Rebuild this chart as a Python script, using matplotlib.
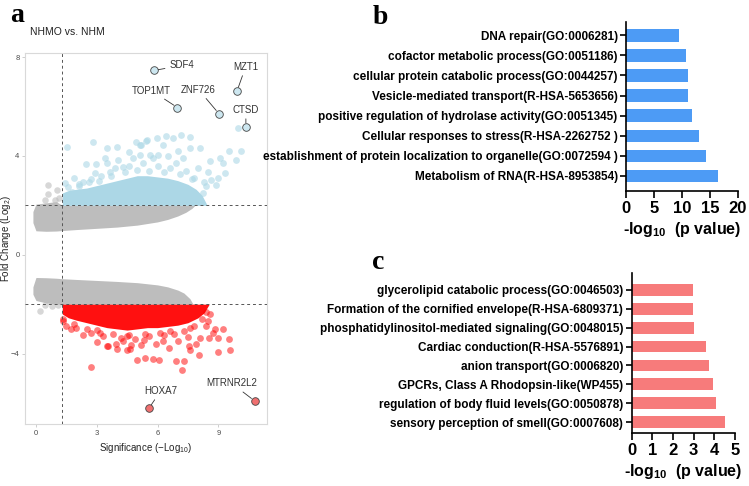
import matplotlib
matplotlib.use("Agg")
import matplotlib.pyplot as plt

plt.rcParams['font.family'] = ['Liberation Sans', 'DejaVu Sans']
plt.rcParams['mathtext.default'] = 'regular'

# Panel a: volcano plot (NHMO vs. NHM)
P_CUT = 1.3
FC_CUT = 2.0

# dense grey cloud, upper arm (x, lower edge, upper edge)
gray_up_x = [-0.15, 0.0, 0.5, 1.0, 1.3, 2.0, 3.0, 4.0, 5.0, 6.0, 6.5, 7.0, 7.4, 7.7, 7.85]
gray_up_lo = [1.3, 0.97, 0.95, 0.96, 0.98, 1.02, 1.07, 1.12, 1.2, 1.33, 1.43, 1.57, 1.72, 1.88, 2.0]
gray_up_hi = [1.75, 2.05, 2.1, 2.15, 2.0, 2.0, 2.0, 2.0, 2.0, 2.0, 2.0, 2.0, 2.0, 2.0, 2.0]
# dense grey cloud, lower arm
gray_dn_x = [-0.15, 0.0, 0.5, 1.0, 1.3, 2.0, 3.0, 4.0, 5.0, 6.0, 6.5, 7.0, 7.3, 7.6, 7.75]
gray_dn_hi = [-1.3, -0.92, -0.93, -0.95, -0.97, -1.0, -1.04, -1.08, -1.13, -1.22, -1.3, -1.43, -1.55, -1.78, -2.0]
gray_dn_lo = [-1.6, -1.85, -1.95, -2.0, -2.0, -2.0, -2.0, -2.0, -2.0, -2.0, -2.0, -2.0, -2.0, -2.0, -2.0]
gray_pts_x = [0.61, 1.02, 0.61, 0.44, 0.94, 1.15, 0.2, 0.8, 0.45, 1.1]
gray_pts_y = [2.83, 2.63, 2.47, 2.23, 2.23, 2.3, -2.27, -2.06, -2.05, -2.05]

# dense up-regulated core (upper edge)
blue_core_x = [1.3, 1.6, 2.0, 2.5, 3.0, 3.5, 4.0, 4.5, 5.0, 5.5, 6.0, 6.5, 7.0, 7.5, 7.9, 8.2, 8.45]
blue_core_hi = [2.5, 2.6, 2.65, 2.7, 2.8, 2.9, 3.0, 3.1, 3.2, 3.2, 3.15, 3.1, 3.0, 2.85, 2.65, 2.4, 2.0]
blue_x = [1.54, 2.82, 3.53, 4.0, 4.93, 5.12, 5.48, 4.57, 2.46, 2.96, 3.53, 4.05, 2.9, 2.74, 2.13,
          1.43, 1.76, 3.65, 4.3, 5.12, 7.18, 7.59, 6.44, 6.77, 5.95, 5.45, 6.27, 5.2, 9.97, 9.52,
          10.13, 9.88, 9.06, 9.23, 9.31, 8.98, 8.57, 8.08, 7.59, 7.01, 7.26, 6.02, 5.62, 8.0, 8.49,
          8.66, 8.9, 8.41, 8.24, 3.2, 3.9, 4.6, 5.3, 6.0, 6.6, 7.4, 4.8, 5.8, 6.5, 3.1, 2.3, 1.9,
          7.8, 8.3, 6.9, 3.4, 2.6, 3.7, 4.4, 5.0, 5.6, 6.3, 7.1, 7.7, 1.6, 2.1]
blue_y = [4.36, 4.55, 4.32, 4.35, 4.55, 4.45, 4.63, 4.14, 3.68, 3.66, 3.71, 3.85, 3.31, 3.06, 2.79,
          2.9, 2.56, 3.37, 3.57, 4.05, 4.86, 4.76, 4.79, 4.72, 4.72, 4.59, 4.45, 4.45, 5.13, 4.19,
          4.19, 3.85, 3.91, 3.71, 3.31, 3.1, 3.78, 4.32, 4.32, 4.19, 3.91, 4.05, 4.05, 3.5, 3.37,
          3.04, 2.83, 2.77, 2.5, 3.2, 3.5, 3.6, 3.7, 3.6, 3.5, 3.4, 3.9, 3.9, 4.0, 3.0, 2.95, 3.1,
          3.1, 2.95, 3.7, 3.9, 2.95, 3.2, 3.35, 3.45, 3.4, 3.35, 3.25, 3.05, 2.75, 2.85]

# dense down-regulated core (lower edge)
red_core_x = [1.3, 1.6, 2.0, 2.5, 3.0, 3.5, 4.0, 4.5, 5.0, 5.5, 6.0, 6.5, 7.0, 7.5, 8.0, 8.3, 8.55]
red_core_lo = [-2.4, -2.55, -2.65, -2.75, -2.85, -2.95, -3.0, -3.05, -3.0, -2.95, -2.95, -2.9, -2.85, -2.75, -2.55, -2.35, -2.0]
red_x = [2.74, 1.71, 2.3, 2.74, 2.99, 3.15, 3.56, 4.0, 4.3, 4.63, 4.99, 5.37, 1.31, 1.31, 5.78,
         6.08, 6.93, 7.29, 7.23, 6.57, 7.55, 7.62, 8.04, 8.98, 9.56, 9.52, 8.98, 8.54, 8.74, 9.23,
         8.82, 8.08, 7.9, 6.27, 7.01, 5.32, 8.41, 8.5, 7.5, 3.97, 4.47, 4.71, 5.2, 3.51, 1.5, 2.0,
         3.3, 4.2, 4.9, 5.6, 6.3, 6.8, 7.3, 7.8, 8.2, 8.6, 8.4, 2.5, 5.9, 4.5, 1.9, 3.0, 3.8,
         4.6, 5.4, 6.1, 6.6, 7.6]
red_y = [-4.55, -3.01, -3.24, -3.17, -3.55, -3.17, -3.71, -3.82, -3.51, -3.82, -4.28, -4.18, -2.7, -2.6, -4.23,
         -4.25, -4.29, -4.32, -4.68, -3.78, -3.71, -3.85, -4.05, -3.95, -3.85, -3.42, -3.37, -3.37, -3.17, -3.01,
         -3.01, -3.37, -3.6, -3.51, -3.51, -3.47, -2.9, -2.7, -3.31, -3.62, -3.85, -3.64, -3.64, -3.71, -2.9, -2.95,
         -3.3, -3.35, -3.4, -3.3, -3.25, -3.2, -3.1, -2.9, -2.6, -2.4, -2.3, -3.0, -3.6, -3.3, -2.8, -3.05, -3.2,
         -3.25, -3.2, -3.15, -3.1, -2.95]

# labelled genes
genes_up = ['SDF4', 'TOP1MT', 'ZNF726', 'MZT1', 'CTSD']
genes_up_x = [5.83, 6.98, 9.03, 9.92, 10.36]
genes_up_y = [7.46, 5.96, 5.71, 6.62, 5.17]
genes_dn = ['HOXA7', 'MTRNR2L2']
genes_dn_x = [5.58, 10.8]
genes_dn_y = [-6.21, -5.92]

# Panel b / c: enrichment
terms_b = ['DNA repair(GO:0006281)',
           'cofactor metabolic process(GO:0051186)',
           'cellular protein catabolic process(GO:0044257)',
           'Vesicle-mediated transport(R-HSA-5653656)',
           'positive regulation of hydrolase activity(GO:0051345)',
           'Cellular responses to stress(R-HSA-2262752 )',
           'establishment of protein localization to organelle(GO:0072594 )',
           'Metabolism of RNA(R-HSA-8953854)']
vals_b = [9.5, 10.7, 11.1, 11.1, 11.8, 13.1, 14.2, 16.4]
terms_c = ['glycerolipid catabolic process(GO:0046503)',
           'Formation of the cornified envelope(R-HSA-6809371)',
           'phosphatidylinositol-mediated signaling(GO:0048015)',
           'Cardiac conduction(R-HSA-5576891)',
           'anion transport(GO:0006820)',
           'GPCRs, Class A Rhodopsin-like(WP455)',
           'regulation of body fluid levels(GO:0050878)',
           'sensory perception of smell(GO:0007608)']
vals_c = [2.98, 2.98, 3.03, 3.6, 3.72, 3.91, 4.07, 4.5]

fig = plt.figure(figsize=(7.49, 4.86), dpi=100)

# ---- panel a
ax = fig.add_axes([0.0334, 0.1276, 0.323, 0.763])
ax.fill_between(gray_up_x, gray_up_lo, gray_up_hi, color='#bdbdbd', lw=0, zorder=1)
ax.fill_between(gray_dn_x, gray_dn_lo, gray_dn_hi, color='#bdbdbd', lw=0, zorder=1)
ax.scatter(gray_pts_x, gray_pts_y, s=22, color='#bdbdbd', alpha=0.6, lw=0, zorder=1)
ax.fill_between(blue_core_x, FC_CUT, blue_core_hi, color='#acd7e6', lw=0, zorder=2)
ax.scatter(blue_x, blue_y, s=24, color='#add8e6', alpha=0.6, lw=0, zorder=2)
ax.fill_between(red_core_x, red_core_lo, -FC_CUT, color='#ff1010', lw=0, zorder=2)
ax.scatter(red_x, red_y, s=24, color='red', alpha=0.5, lw=0, zorder=2)
ax.axvline(P_CUT, color='#555555', ls=(0, (3, 3)), lw=0.7, zorder=3)
ax.axhline(FC_CUT, color='#555555', ls=(0, (3, 3)), lw=0.7, zorder=3)
ax.axhline(-FC_CUT, color='#555555', ls=(0, (3, 3)), lw=0.7, zorder=3)
ax.scatter(genes_up_x, genes_up_y, s=30, facecolor='#cde7f0', edgecolor='#444444', lw=0.6, zorder=4)
ax.scatter(genes_dn_x, genes_dn_y, s=30, facecolor='#f07070', edgecolor='#444444', lw=0.6, zorder=4)

offsets_up = [(10.8, 3.6), (-18.7, 12.2), (-14.6, 17.3), (6.3, 17.7), (0, 12.5)]
for name, gx, gy, off in zip(genes_up, genes_up_x, genes_up_y, offsets_up):
    ha = 'left' if name == 'SDF4' else 'center'
    ax.annotate(name, (gx, gy), xytext=off, textcoords='offset points', ha=ha, va='center',
                fontsize=7, color='#333333', zorder=5,
                arrowprops=dict(arrowstyle='-', color='#333333', lw=0.6, shrinkA=1, shrinkB=3))
offsets_dn = [(8.4, 12.5), (-16.6, 12.7)]
for name, gx, gy, off in zip(genes_dn, genes_dn_x, genes_dn_y, offsets_dn):
    ax.annotate(name, (gx, gy), xytext=off, textcoords='offset points', ha='center', va='center',
                fontsize=7, color='#333333', zorder=5,
                arrowprops=dict(arrowstyle='-', color='#333333', lw=0.6, shrinkA=1, shrinkB=3))

ax.set_xlim(-0.54, 11.4)
ax.set_ylim(-6.85, 8.16)
ax.set_xticks([0, 3, 6, 9])
ax.set_yticks([-4, 0, 4, 8])
ax.tick_params(labelsize=5.5, labelcolor='#4d4d4d', length=2, width=0.5, color='#bbbbbb', pad=2)
for s in ax.spines.values():
    s.set_color('#d9d9d9')
    s.set_linewidth(0.8)
ax.set_xlabel('Significance (−Log$_{10}$)', fontsize=7, color='#222222', labelpad=3)
ax.set_ylabel('Fold Change (Log$_{2}$)', fontsize=7, color='#222222')
ax.yaxis.set_label_coords(-0.048, 0.5)
fig.text(0.040, 0.934, 'NHMO vs. NHM', fontsize=7.5, color='#222222', va='center', ha='left')

# ---- panels b and c
def enrich(axis, terms, vals, color, xmax, ylim):
    pos = list(range(len(terms)))
    axis.barh(pos, vals, height=0.62, color=color, zorder=2)
    axis.set_yticks(pos)
    axis.set_yticklabels(terms, fontsize=8.5, fontweight='bold')
    axis.set_ylim(*ylim)
    axis.set_xlim(0, xmax)
    for s in ['top', 'right']:
        axis.spines[s].set_visible(False)
    for s in ['left', 'bottom']:
        axis.spines[s].set_linewidth(1.2)
    axis.tick_params(axis='y', length=4, width=1.2, pad=2)
    axis.tick_params(axis='x', length=5, width=1.2, labelsize=12, pad=2)
    for lab in axis.get_xticklabels():
        lab.set_fontweight('bold')
    axis.set_xlabel('-log$_{10}$  (p value)', fontsize=11.5, fontweight='bold', labelpad=3)

ax_b = fig.add_axes([0.8358, 0.607, 0.1495, 0.3477])
enrich(ax_b, terms_b, vals_b, '#4d9bf5', 20, (7.75, -0.66))
ax_b.set_xticks([0, 5, 10, 15, 20])

ax_c = fig.add_axes([0.8434, 0.109, 0.138, 0.329])
enrich(ax_c, terms_c, vals_c, '#f77b7b', 5, (7.58, -0.89))
ax_c.set_xticks([0, 1, 2, 3, 4, 5])

fig.text(0.013, 0.968, 'a', fontsize=20, fontweight='bold', family='Liberation Serif', va='center')
fig.text(0.497, 0.965, 'b', fontsize=20, fontweight='bold', family='Liberation Serif', va='center')
fig.text(0.497, 0.46, 'c', fontsize=20, fontweight='bold', family='Liberation Serif', va='center')

fig.savefig('out.png', dpi=100)
